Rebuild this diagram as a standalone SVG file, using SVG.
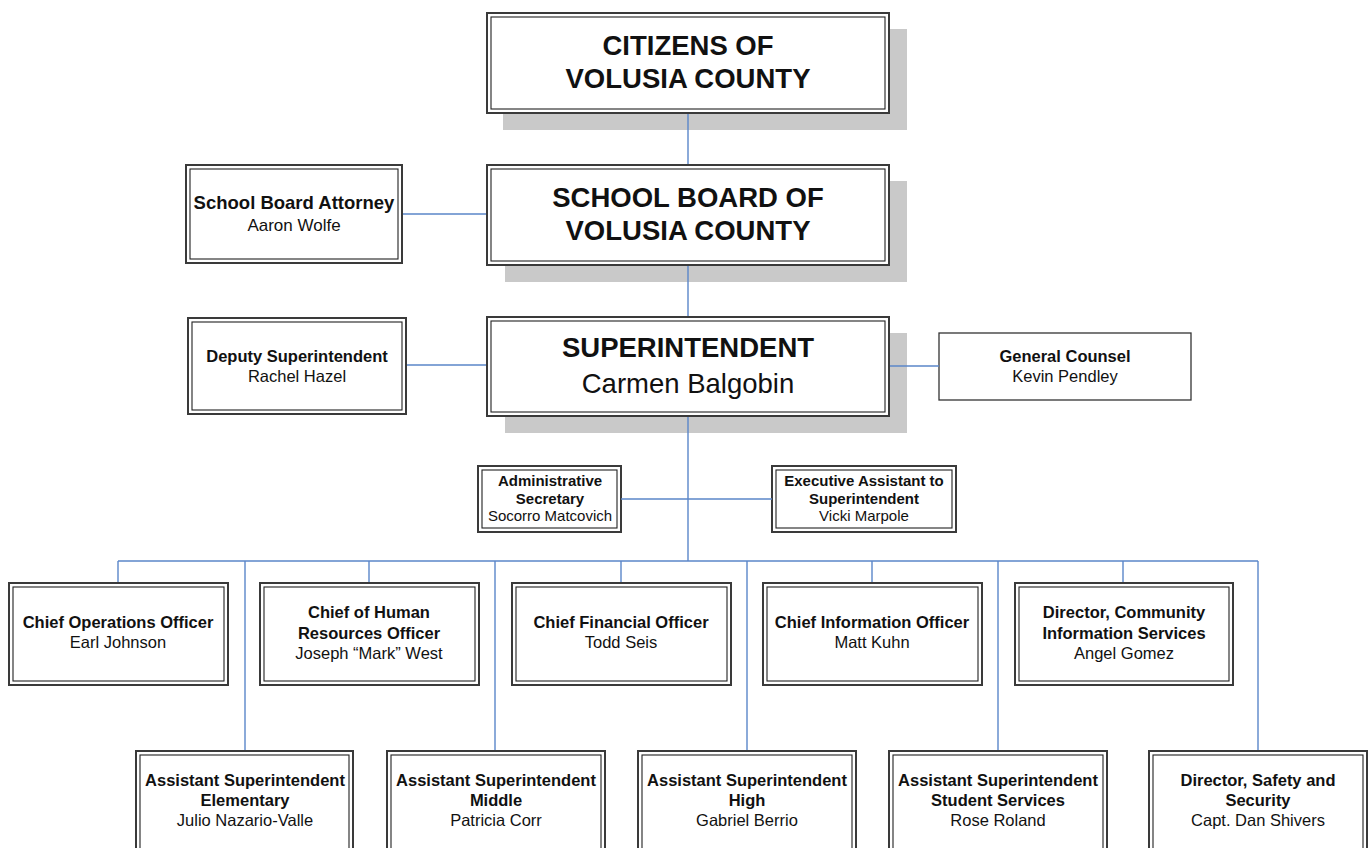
<svg xmlns="http://www.w3.org/2000/svg" width="1369" height="848" viewBox="0 0 1369 848">
<style>
text{font-family:"Liberation Sans",Arial,Helvetica,sans-serif;fill:#111;text-anchor:middle}
.o{fill:#fff;stroke:#3a3a3a;stroke-width:2}
.i{fill:none;stroke:#222;stroke-width:1.1}
.s{fill:#c9c9c9}
.c{fill:none;stroke:#5b87c9;stroke-width:1.4}
.big{font-size:27.5px;font-weight:bold}
.bigr{font-size:27.5px}
.b{font-size:16.5px;font-weight:bold}
.r{font-size:16.5px}
.bs{font-size:15px;font-weight:bold}
.rs{font-size:15px}
</style>
<rect width="1369" height="848" fill="#fff"/>
<g id="citizens">
<rect class="s" x="503" y="29" width="404" height="101"/>
<rect class="o" x="487" y="13" width="402" height="100"/>
<rect class="i" x="491" y="17" width="394" height="92"/>
<text class="big" x="688" y="55">CITIZENS OF</text>
<text class="big" x="688" y="88">VOLUSIA COUNTY</text>
</g>
<g id="school-board">
<rect class="s" x="505" y="181" width="402" height="101"/>
<rect class="o" x="487" y="165" width="402" height="100"/>
<rect class="i" x="491" y="169" width="394" height="92"/>
<text class="big" x="688" y="207">SCHOOL BOARD OF</text>
<text class="big" x="688" y="240">VOLUSIA COUNTY</text>
</g>
<g id="attorney">
<rect class="o" x="186" y="165" width="216" height="98"/>
<rect class="i" x="190" y="169" width="208" height="90"/>
<text x="294" y="209" style="font-size:18.5px;font-weight:bold">School Board Attorney</text>
<text x="294" y="231" style="font-size:17px">Aaron Wolfe</text>
</g>
<g id="superintendent">
<rect class="s" x="505" y="333" width="402" height="100"/>
<rect class="o" x="487" y="317" width="402" height="99"/>
<rect class="i" x="491" y="321" width="394" height="91"/>
<text class="big" x="688" y="357">SUPERINTENDENT</text>
<text class="bigr" x="688" y="393">Carmen Balgobin</text>
</g>
<g id="deputy">
<rect class="o" x="188" y="318" width="218" height="96"/>
<rect class="i" x="192" y="322" width="210" height="88"/>
<text class="b" x="297" y="362">Deputy Superintendent</text>
<text class="r" x="297" y="382">Rachel Hazel</text>
</g>
<g id="general-counsel">
<rect x="939" y="333" width="252" height="67" fill="#fff" stroke="#333" stroke-width="1.3"/>
<text class="b" x="1065" y="362">General Counsel</text>
<text class="r" x="1065" y="382">Kevin Pendley</text>
</g>
<g id="admin-secretary">
<rect class="o" x="478" y="466" width="143" height="66"/>
<rect class="i" x="482" y="470" width="135" height="58"/>
<text class="bs" x="550" y="486">Administrative</text>
<text class="bs" x="550" y="504">Secretary</text>
<text class="rs" x="550" y="521">Socorro Matcovich</text>
</g>
<g id="exec-assistant">
<rect class="o" x="772" y="466" width="184" height="66"/>
<rect class="i" x="776" y="470" width="176" height="58"/>
<text class="bs" x="864" y="486">Executive Assistant to</text>
<text class="bs" x="864" y="504">Superintendent</text>
<text class="rs" x="864" y="521">Vicki Marpole</text>
</g>
<g id="coo">
<rect class="o" x="9" y="583" width="219" height="102"/>
<rect class="i" x="13" y="587" width="211" height="94"/>
<text class="b" x="118" y="628">Chief Operations Officer</text>
<text class="r" x="118" y="648">Earl Johnson</text>
</g>
<g id="hr">
<rect class="o" x="260" y="583" width="219" height="102"/>
<rect class="i" x="264" y="587" width="211" height="94"/>
<text class="b" x="369" y="618">Chief of Human</text>
<text class="b" x="369" y="639">Resources Officer</text>
<text class="r" x="369" y="659">Joseph “Mark” West</text>
</g>
<g id="cfo">
<rect class="o" x="512" y="583" width="219" height="102"/>
<rect class="i" x="516" y="587" width="211" height="94"/>
<text class="b" x="621" y="628">Chief Financial Officer</text>
<text class="r" x="621" y="648">Todd Seis</text>
</g>
<g id="cio">
<rect class="o" x="763" y="583" width="219" height="102"/>
<rect class="i" x="767" y="587" width="211" height="94"/>
<text class="b" x="872" y="628">Chief Information Officer</text>
<text class="r" x="872" y="648">Matt Kuhn</text>
</g>
<g id="community-info">
<rect class="o" x="1015" y="583" width="218" height="102"/>
<rect class="i" x="1019" y="587" width="210" height="94"/>
<text class="b" x="1124" y="618">Director, Community</text>
<text class="b" x="1124" y="639">Information Services</text>
<text class="r" x="1124" y="659">Angel Gomez</text>
</g>
<g id="asst-elementary">
<rect class="o" x="136" y="751" width="217" height="105"/>
<rect class="i" x="140" y="755" width="209" height="97"/>
<text class="b" x="245" y="786">Assistant Superintendent</text>
<text class="b" x="245" y="806">Elementary</text>
<text class="r" x="245" y="826">Julio Nazario-Valle</text>
</g>
<g id="asst-middle">
<rect class="o" x="387" y="751" width="218" height="105"/>
<rect class="i" x="391" y="755" width="210" height="97"/>
<text class="b" x="496" y="786">Assistant Superintendent</text>
<text class="b" x="496" y="806">Middle</text>
<text class="r" x="496" y="826">Patricia Corr</text>
</g>
<g id="asst-high">
<rect class="o" x="638" y="751" width="218" height="105"/>
<rect class="i" x="642" y="755" width="210" height="97"/>
<text class="b" x="747" y="786">Assistant Superintendent</text>
<text class="b" x="747" y="806">High</text>
<text class="r" x="747" y="826">Gabriel Berrio</text>
</g>
<g id="asst-student">
<rect class="o" x="889" y="751" width="218" height="105"/>
<rect class="i" x="893" y="755" width="210" height="97"/>
<text class="b" x="998" y="786">Assistant Superintendent</text>
<text class="b" x="998" y="806">Student Services</text>
<text class="r" x="998" y="826">Rose Roland</text>
</g>
<g id="safety">
<rect class="o" x="1149" y="751" width="218" height="105"/>
<rect class="i" x="1153" y="755" width="210" height="97"/>
<text class="b" x="1258" y="786">Director, Safety and</text>
<text class="b" x="1258" y="806">Security</text>
<text class="r" x="1258" y="826">Capt. Dan Shivers</text>
</g>
<g id="connectors">
<path class="c" d="M688 114V164M688 266V316M688 417V561M403 214H486M407 365H486M890 366H939M621 499H772M118 561H1258M118 561V582M245 561V750M369 561V582M495 561V750M621 561V582M747 561V750M872 561V582M998 561V750M1123 561V582M1258 561V750"/>
</g>
</svg>
